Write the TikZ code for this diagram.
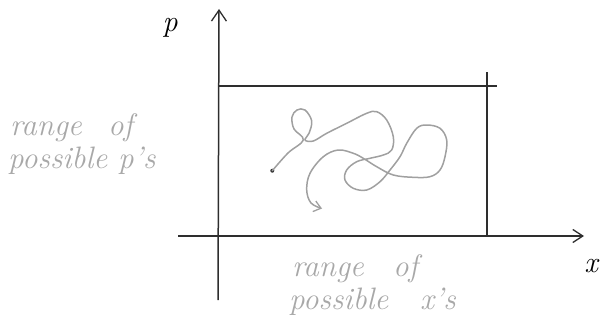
\documentclass[tikz,border=0pt]{standalone}
\usetikzlibrary{arrows.meta}
\definecolor{axisc}{HTML}{2E2E2E}
\definecolor{handc}{HTML}{A8A8A8}
\definecolor{curvec}{HTML}{A0A0A0}
\begin{document}
\begin{tikzpicture}[x=1pt,y=-1pt,
  axisline/.style={axisc,line width=1.5pt,-{Straight Barb[length=11pt,width=15pt,line width=1.3pt]}},
  boxline/.style={axisc,line width=1.4pt},
  hand/.style={handc,anchor=base west,inner sep=0pt,font=\fontsize{31}{34}\selectfont\itshape},
  lbl/.style={black,inner sep=0pt,font=\fontsize{30}{34}\selectfont\itshape},
  walk/.style={curvec,line width=1.5pt,line cap=round,line join=round}]
\useasboundingbox (0,0) rectangle (602,329);
% axes
\coordinate (vbot) at (218,300);
\coordinate (vtop) at (219,9);
\coordinate (hleft) at (178,236);
\coordinate (hright) at (584,236);
\draw[axisline] (vbot) -- (vtop);
\draw[axisline,-{Straight Barb[length=10pt,width=13pt,line width=1.3pt]}] (hleft) -- (hright);
% box lines
\coordinate (tl) at (218,86);
\coordinate (tr) at (497,86);
\coordinate (rt) at (487,72);
\coordinate (rb) at (487,236);
\draw[boxline] (tl) -- (tr);
\draw[boxline] (rt) -- (rb);
% axis labels
\node[lbl] (plab) at (170,28) {p};
\node[lbl] (xlab) at (591,266) {x};
% gray labels
\node[hand] (l1) at (10,135) {range};
\node[hand] (l2) at (108,135) {of};
\node[hand] (l3) at (8,168) {possible};
\node[hand] (l4) at (118,168) {p's};
\node[hand] (b1) at (292,276) {range};
\node[hand] (b2) at (393,276) {of};
\node[hand] (b3) at (289,309) {possible};
\node[hand] (b4) at (420,309) {x's};
% random walk
\coordinate (start) at (272.3,170.7);
\fill[black!80] (start) circle (2pt);
\draw[walk,-{Straight Barb[length=7pt,width=11pt,line width=1.3pt]}] plot[smooth,tension=0.6] coordinates {
 (272.3,170.7) (288,153) (303.3,140) (294,129) (292,117) (297,110) (305,110) (311.7,121) (309,133.3)
 (305,140) (313.3,141) (326.7,133.3) (346.7,123.3) (366.7,113.3) (376.7,111.7) (386.7,120)
 (393.3,136.7) (391.7,150) (383.3,155) (370,158.3) (356.7,161.7) (346.7,170) (345,180)
 (353.3,188.3) (366.7,190) (380,181.7) (390,170) (400,156.7) (406.7,143.3) (416.7,128.3)
 (426.7,125) (440,128.3) (446.7,140) (445,156.7) (440,170) (430,176.7) (413.3,177.3)
 (393.3,175) (376.7,166.7) (363.3,158.3) (353.3,153.3) (338.3,150) (323.3,156.7) (310,173.3)
 (306.7,190) (311,203) (322,208.5)};
\end{tikzpicture}
\end{document}
